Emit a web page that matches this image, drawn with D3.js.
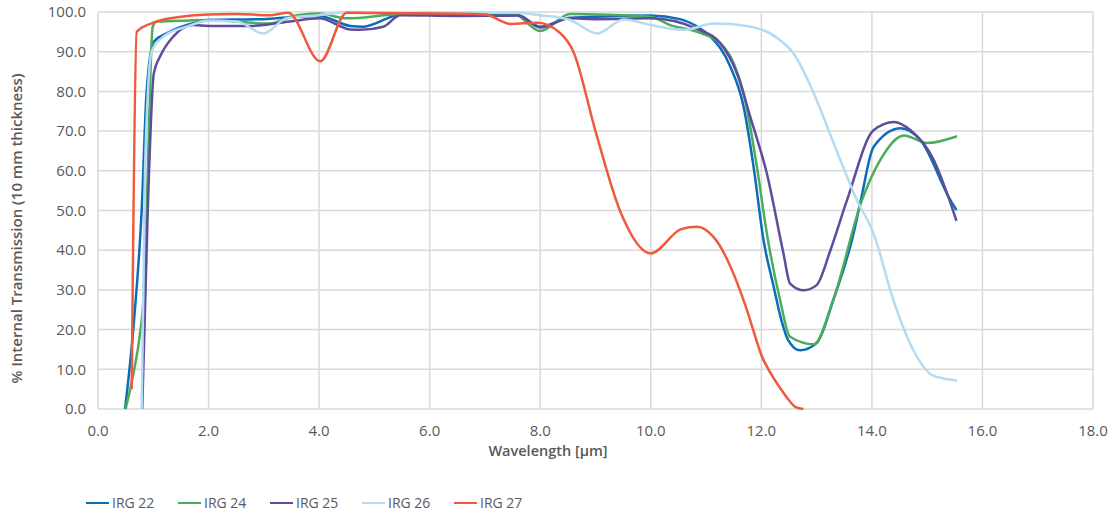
<!DOCTYPE html>
<html>
<head>
<meta charset="utf-8">
<script src="https://cdn.jsdelivr.net/npm/d3@7"></script>
<style>
  body { margin: 0; background: #fff; }
  svg text { font-family: "Open Sans", sans-serif; fill: #595959; }
</style>
</head>
<body>
<div id="chart"></div>
<script>
// wavelength (µm) / % transmission
const irg22X = [0.49, 0.65, 0.79, 0.88, 1.01, 1.24, 1.85, 2.0, 3.0, 3.47, 4.0, 4.56, 4.8, 5.47, 6.5, 7.6, 8.0, 8.5, 9.0, 10.0, 10.53, 10.84, 11.08, 11.44, 11.68, 11.86, 12.04, 12.22, 12.36, 12.48, 12.7, 13.0, 13.3, 13.67, 13.8, 14.03, 14.52, 14.88, 15.42, 15.53];
const irg22Y = [0, 22, 50, 80, 92.5, 94.6, 97.6, 98.0, 98.2, 98.7, 99.0, 96.5, 96.3, 99.3, 99.3, 99.2, 96.3, 98.5, 98.8, 99.1, 98.2, 96.3, 93.8, 86.2, 76.1, 61, 42.5, 31.0, 22.5, 17.5, 14.8, 16.6, 27.4, 44.3, 52.6, 66, 70.7, 67.7, 52.6, 50.1];

const irg24X = [0.5, 0.64, 0.76, 0.82, 0.88, 0.99, 1.06, 1.5, 2.0, 3.1, 3.6, 4.0, 4.5, 5.47, 6.5, 7.5, 8.0, 8.54, 9.0, 10.0, 10.35, 10.84, 11.26, 11.5, 11.68, 11.92, 12.1, 12.34, 12.52, 12.95, 13.3, 13.82, 14.15, 14.58, 15.0, 15.54];
const irg24Y = [0, 8.9, 19, 27.4, 50, 96.3, 97.6, 97.8, 98.0, 97.1, 99.2, 99.6, 98.4, 99.5, 99.7, 99.7, 95.2, 99.5, 99.4, 98.8, 96.7, 95, 92.1, 87.1, 79.5, 61, 44.2, 27.4, 18.2, 16.3, 27.4, 52.6, 62.7, 68.9, 67.0, 68.7];

const irg25X = [0.8, 0.9, 1.01, 1.12, 1.36, 1.72, 2.0, 2.75, 3.47, 4.0, 4.56, 4.74, 5.16, 5.47, 6.5, 7.6, 8.0, 8.54, 9.0, 10.0, 10.84, 11.26, 11.56, 11.8, 12.1, 12.4, 12.52, 12.77, 13.0, 13.25, 13.55, 14.03, 14.4, 14.7, 15.12, 15.36, 15.53];
const irg25Y = [0, 50, 84.6, 88.7, 93.8, 96.7, 96.5, 96.5, 97.6, 98.4, 95.6, 95.5, 96.3, 99.2, 99.0, 99.1, 96.1, 98.4, 98.2, 98.4, 95.7, 92.1, 84.5, 73.6, 59.3, 39.2, 31.6, 29.9, 31.2, 40, 52.6, 70.2, 72.3, 70.2, 62.7, 54.3, 47.4];

const irg26X = [0.79, 0.85, 0.97, 1.18, 1.6, 2.0, 2.51, 2.99, 3.41, 4.0, 4.56, 6.0, 7.6, 8.0, 8.54, 9.03, 9.51, 10.0, 10.6, 11.14, 11.74, 12.34, 12.58, 12.95, 13.31, 13.73, 14.03, 14.39, 14.75, 15.05, 15.29, 15.54];
const irg26Y = [0, 60, 90, 93.8, 96.3, 97.8, 97.6, 94.6, 98.4, 99.2, 100, 99.8, 99.8, 99.2, 98.0, 94.6, 98.1, 96.7, 95.5, 97.1, 96.5, 92.9, 89.6, 79.5, 66.9, 52.6, 44.2, 27.4, 14.8, 8.9, 7.7, 7.2];

const irg27X = [0.61, 0.7, 1.0, 1.5, 2.0, 2.5, 3.1, 3.44, 4.02, 4.5, 5.5, 7.0, 7.46, 7.95, 8.36, 8.6, 9.0, 9.45, 10.0, 10.55, 10.84, 11.13, 11.74, 11.9, 12.0, 12.17, 12.34, 12.5, 12.62, 12.76];
const irg27Y = [5, 95, 97.3, 98.8, 99.4, 99.5, 99.2, 99.8, 87.6, 99.8, 99.7, 99.4, 97.0, 97.3, 94.7, 90, 70, 49.7, 39.2, 45.3, 45.9, 43.4, 24.9, 17.8, 13.6, 9.0, 5.3, 2.2, 0.5, 0];

const seriesNames = ["IRG 22", "IRG 24", "IRG 25", "IRG 26", "IRG 27"];
const seriesColors = ["#0a6db8", "#4aad5b", "#5e4c9c", "#b3dcf4", "#ee5b3c"];
const seriesX = [irg22X, irg24X, irg25X, irg26X, irg27X];
const seriesY = [irg22Y, irg24Y, irg25Y, irg26Y, irg27Y];

const xTicks = d3.range(0, 18.1, 2);
const yTicks = d3.range(0, 100.1, 10);

const W = 1110, H = 513;
const margin = {top: 12, right: 17, bottom: 104, left: 98};

const svg = d3.select("#chart").append("svg")
    .attr("width", W).attr("height", H);

const x = d3.scaleLinear().domain([0, 18]).range([margin.left, W - margin.right]);
const y = d3.scaleLinear().domain([0, 100]).range([H - margin.bottom, margin.top]);

// grid
svg.append("g").selectAll("line").data(yTicks).join("line")
    .attr("x1", x(0)).attr("x2", x(18))
    .attr("y1", d => y(d)).attr("y2", d => y(d))
    .attr("stroke", "#d9d9d9").attr("stroke-width", 1.5);
svg.append("g").selectAll("line").data(xTicks).join("line")
    .attr("x1", d => x(d)).attr("x2", d => x(d))
    .attr("y1", y(0)).attr("y2", y(100))
    .attr("stroke", "#d9d9d9").attr("stroke-width", 1.5);

// tick labels
svg.append("g").selectAll("text").data(yTicks).join("text")
    .attr("x", x(0) - 12).attr("y", d => y(d))
    .attr("dy", "0.35em").attr("text-anchor", "end")
    .style("font-size", "15px")
    .text(d => d.toFixed(1));
svg.append("g").selectAll("text").data(xTicks).join("text")
    .attr("x", d => x(d)).attr("y", y(0) + 22)
    .attr("dy", "0.35em").attr("text-anchor", "middle")
    .style("font-size", "15px")
    .text(d => d.toFixed(1));

// axis titles
svg.append("text")
    .attr("x", 548).attr("y", y(0) + 42)
    .attr("dy", "0.35em").attr("text-anchor", "middle")
    .style("font-size", "14.5px").style("font-weight", 600)
    .text("Wavelength [µm]");
svg.append("text")
    .attr("transform", `translate(17,${(y(0) + y(100)) / 2 + 18}) rotate(-90)`)
    .attr("dy", "0.35em").attr("text-anchor", "middle")
    .style("font-size", "15px").style("font-weight", 600)
    .text("% Internal Transmission (10 mm thickness)");

// lines
const line = d3.line()
    .x(d => x(d[0])).y(d => y(d[1]))
    .curve(d3.curveMonotoneX);

seriesNames.forEach((name, i) => {
  const pts = seriesX[i].map((v, j) => [v, seriesY[i][j]]);
  svg.append("path")
      .datum(pts)
      .attr("fill", "none")
      .attr("stroke", seriesColors[i])
      .attr("stroke-width", 2.5)
      .attr("d", line);
});

// legend
const legend = svg.append("g").attr("transform", "translate(86,503)");
const item = legend.selectAll("g").data(seriesNames).join("g")
    .attr("transform", (d, i) => `translate(${i * 92},0)`);
item.append("line")
    .attr("x1", 0).attr("x2", 23).attr("y1", 0).attr("y2", 0)
    .attr("stroke", (d, i) => seriesColors[i]).attr("stroke-width", 2);
item.append("text")
    .attr("x", 26).attr("dy", "0.35em")
    .style("font-size", "14px")
    .text(d => d);
</script>
</body>
</html>
